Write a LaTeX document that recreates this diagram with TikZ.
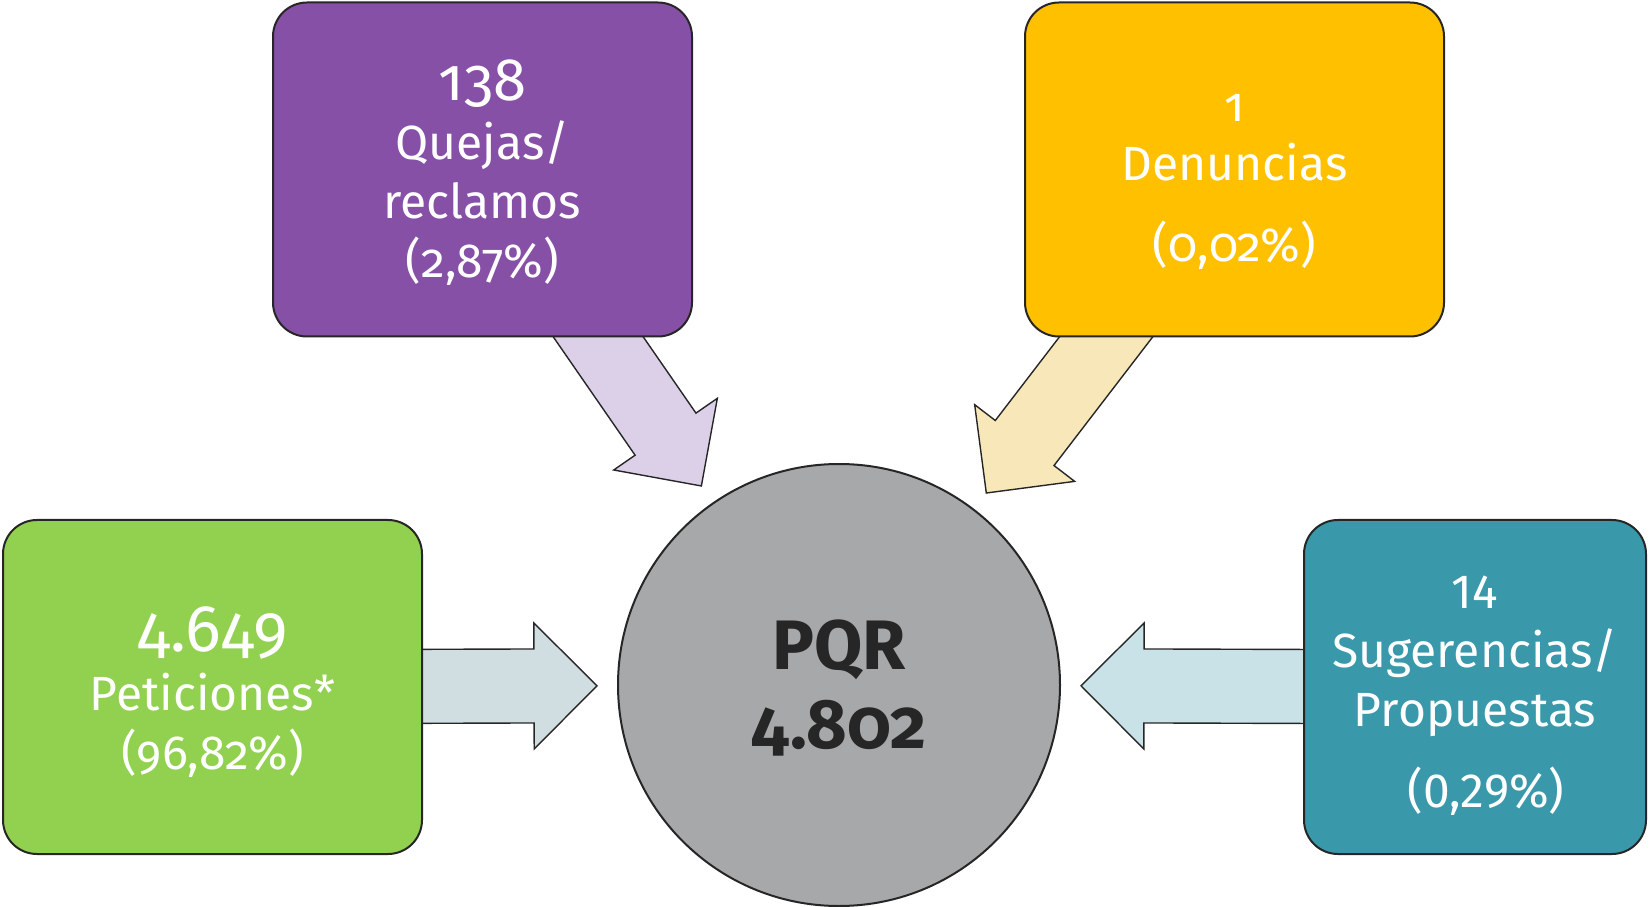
\documentclass[tikz,border=0pt]{standalone}
\usepackage{fontspec}
\setmainfont{Fira Sans}[Numbers=OldStyle]
\newfontfamily\liningfont{Fira Sans}[Numbers=Lining]
\usetikzlibrary{calc,backgrounds}

\definecolor{quejasfill}{RGB}{135,80,167}
\definecolor{quejasarrow}{RGB}{220,207,232}
\definecolor{denunciasfill}{RGB}{255,192,0}
\definecolor{denunciasarrow}{RGB}{248,232,185}
\definecolor{peticionesfill}{RGB}{146,208,80}
\definecolor{peticionesarrow}{RGB}{208,222,226}
\definecolor{sugerenciasfill}{RGB}{58,152,171}
\definecolor{sugerenciasarrow}{RGB}{201,226,231}
\definecolor{pqrfill}{RGB}{167,168,170}
\definecolor{outline}{RGB}{38,38,38}

\tikzset{
  catbox/.style={draw=outline, line width=2pt, rounded corners=34pt,
    minimum width=419pt, minimum height=334pt, inner sep=0pt},
  cattext/.style={text=white, align=center, font=\fontsize{48}{59}\selectfont},
  blockarrow/.style={draw=outline, line width=1.4pt, line join=miter},
}

% block arrow from a box towards the PQR circle
\newcommand{\intoPQR}[2]{%
  \coordinate (tip) at ($(pqr.center)!242pt!(#1.center)$);
  \coordinate (hb) at ($(tip)!63pt!(#1.center)$);
  \filldraw[blockarrow, fill=#2]
    ($(#1.center)!37pt!90:(tip)$) -- ($(hb)!37pt!90:(tip)$) -- ($(hb)!63pt!90:(tip)$)
    -- (tip) -- ($(hb)!63pt!-90:(tip)$) -- ($(hb)!37pt!-90:(tip)$)
    -- ($(#1.center)!37pt!-90:(tip)$) -- cycle;
}

\begin{document}
\begin{tikzpicture}[x=1pt,y=1pt]
    \useasboundingbox (0,0) rectangle (1649,906);
    % centre circle
    \node[circle, draw=outline, line width=2pt, fill=pqrfill, minimum size=442pt, inner sep=0pt] (pqr) at (839,221) {};
    \node[align=center, text=outline, font=\fontsize{70}{79}\selectfont\bfseries] (pqrT) at ([yshift=-3pt]pqr.center) {PQR\\4.802};
    % category boxes
    \node[catbox, fill=quejasfill] (quejas) at (482.5,736.5) {};
    \node[catbox, fill=denunciasfill] (denuncias) at (1234.5,736.5) {};
    \node[catbox, fill=peticionesfill] (peticiones) at (212.5,219) {};
    \node[catbox, fill=sugerenciasfill, minimum width=342pt] (sugerencias) at (1475,219) {};
    % box texts
    \node[cattext] (quejasT) at ([yshift=-3pt]quejas.center) {{\fontsize{60}{59}\selectfont 138}\\Quejas/\\reclamos\\(2,87\%)};
    \node[cattext] (denunciasT) at ([yshift=-12pt]denuncias.center) {1\\Denuncias\\[22pt](0,02\%)};
    \node[cattext] (peticionesT) at ([yshift=-5pt]peticiones.center) {{\fontsize{66}{59}\selectfont 4.649}\\Peticiones*\\(96,82\%)};
    \node[cattext] (sugerenciasT) at ([yshift=-9pt]sugerencias.center) {{\liningfont 14}\\Sugerencias/\\Propuestas\\[22pt]\hspace*{22pt}{\liningfont (0,29\%)}};
    % arrows into the circle
    \begin{pgfonlayer}{background}
      \foreach \src/\col in {quejas/quejasarrow, denuncias/denunciasarrow, peticiones/peticionesarrow, sugerencias/sugerenciasarrow}{
        \intoPQR{\src}{\col}
      }
    \end{pgfonlayer}
\end{tikzpicture}
\end{document}
